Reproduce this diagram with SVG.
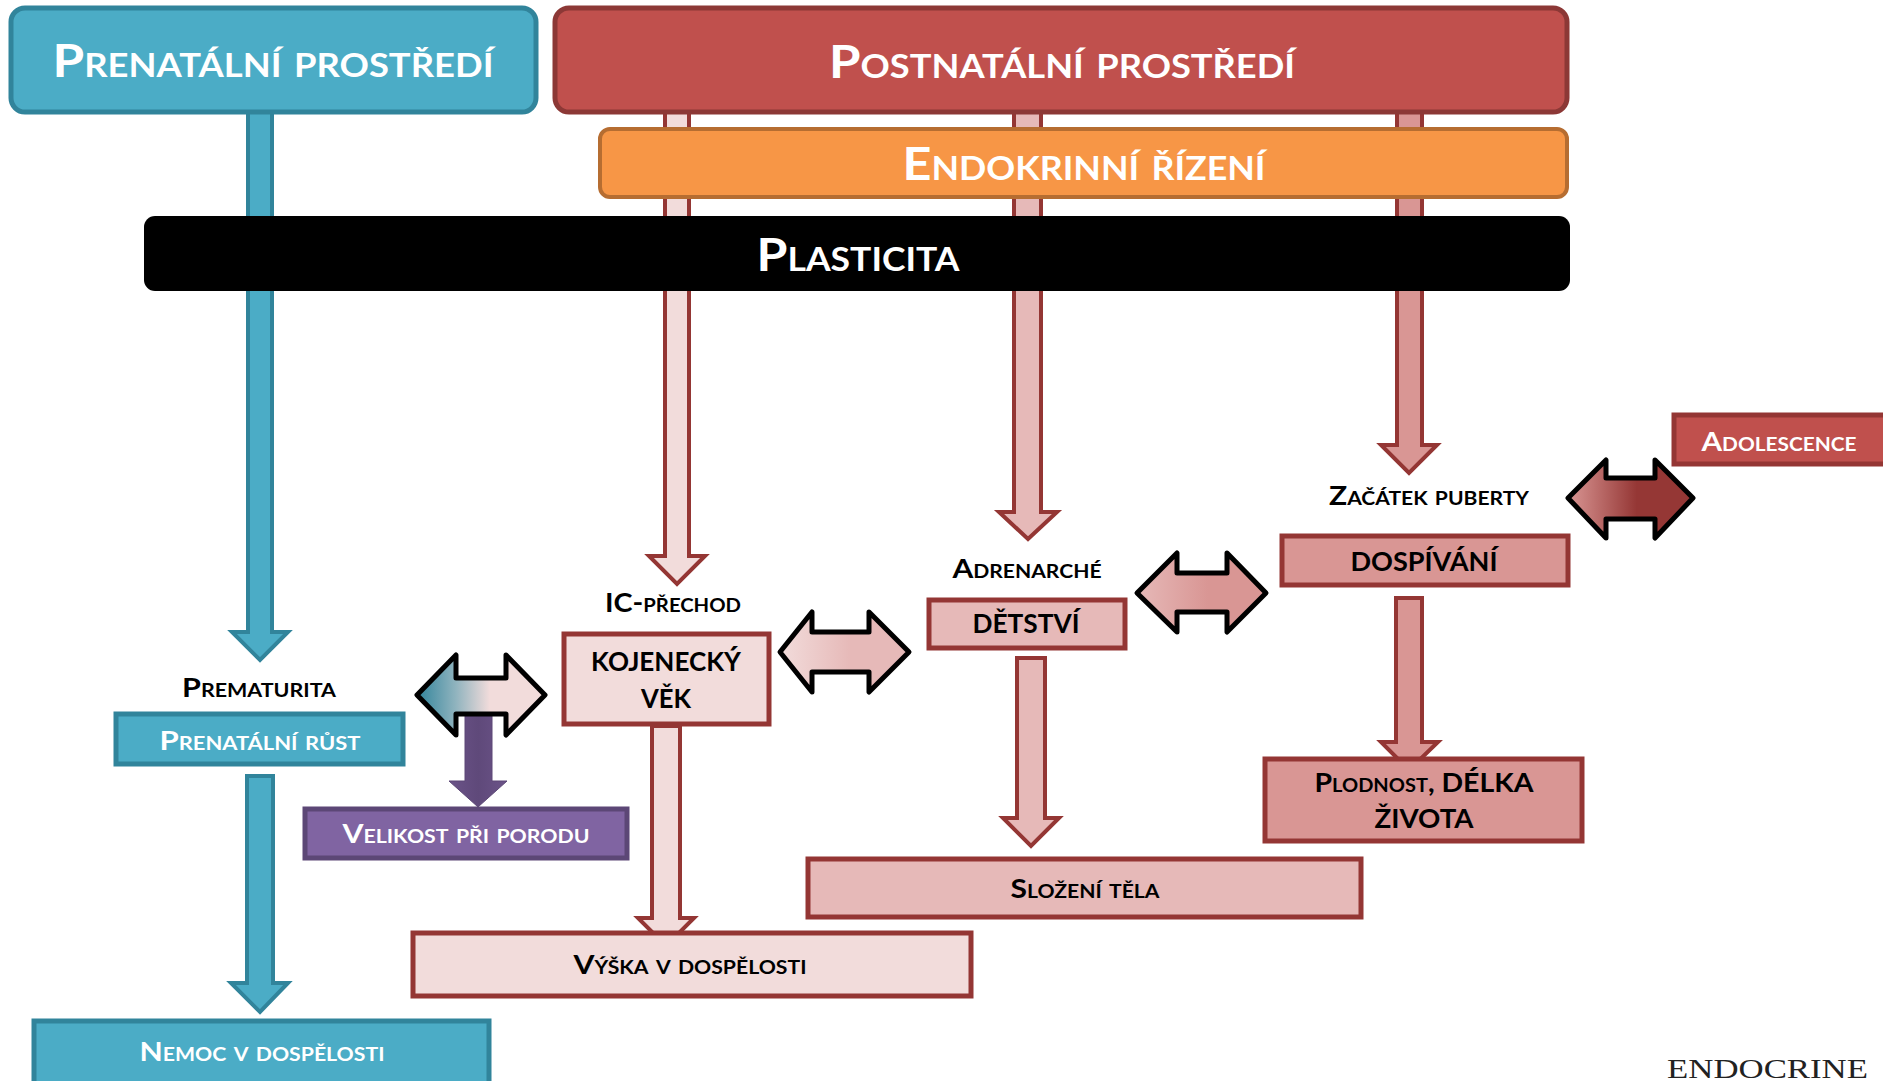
<svg xmlns="http://www.w3.org/2000/svg" width="1883" height="1081" viewBox="0 0 1883 1081">
<style>
text{font-family:Lato,"Open Sans","Liberation Sans",sans-serif;font-weight:bold;text-anchor:middle}
.sc{font-variant:small-caps}
.hd{font-size:45px;fill:#fff}
.lb{font-size:27px;fill:#000}
.wt{font-size:27px;fill:#fff}
.pk1{fill:#F2DCDB;stroke:#943634;stroke-width:5}
.pk2{fill:#E6B9B8;stroke:#943634;stroke-width:5}
.pk3{fill:#D99694;stroke:#943634;stroke-width:5}
.ar1{fill:#F2DCDB;stroke:#943634;stroke-width:4}
.ar2{fill:#E6B9B8;stroke:#943634;stroke-width:4}
.ar3{fill:#D99694;stroke:#943634;stroke-width:4}
.tl{fill:#4BACC6;stroke:#31849B;stroke-width:4}
.dbl{stroke:#000;stroke-width:5;stroke-linejoin:round}
</style>
<defs>
<linearGradient id="g1" x1="0" y1="0" x2="1" y2="0">
<stop offset="0" stop-color="#31849B"/><stop offset="0.3" stop-color="#8FB3BE"/><stop offset="0.57" stop-color="#F2DCDB"/><stop offset="1" stop-color="#F2DCDB"/>
</linearGradient>
<linearGradient id="g2" x1="0" y1="0" x2="1" y2="0">
<stop offset="0" stop-color="#F2DCDB"/><stop offset="0.55" stop-color="#E6B9B8"/><stop offset="1" stop-color="#E6B9B8"/>
</linearGradient>
<linearGradient id="g3" x1="0" y1="0" x2="1" y2="0">
<stop offset="0" stop-color="#E6B9B8"/><stop offset="0.55" stop-color="#D99694"/><stop offset="1" stop-color="#D99694"/>
</linearGradient>
<linearGradient id="g4" x1="0" y1="0" x2="1" y2="0">
<stop offset="0" stop-color="#D99694"/><stop offset="0.55" stop-color="#953735"/><stop offset="1" stop-color="#953735"/>
</linearGradient>
<linearGradient id="gp" x1="0" y1="0" x2="1" y2="0">
<stop offset="0" stop-color="#6B5388"/><stop offset="0.5" stop-color="#5F497A"/><stop offset="1" stop-color="#6B5388"/>
</linearGradient>
</defs>

<g id="connectors">
<path class="tl" d="M248,100 V632 H232 L260,660 L288,632 H272 V100 Z"/>
<path class="tl" d="M247,776 V983 H231 L260,1012 L288,983 H273 V776 Z"/>
<path class="ar1" d="M665,100 V556 H649 L677,584 L705,556 H689 V100 Z"/>
<path class="ar2" d="M1014,100 V512 H999 L1028,539 L1057,512 H1041 V100 Z"/>
<path class="ar3" d="M1397,100 V445 H1381 L1409,473 L1437,445 H1422 V100 Z"/>
<path class="ar1" d="M652,726 V918 H638 L666,946 L694,918 H680 V726 Z"/>
<path class="ar2" d="M1017,658 V818 H1003 L1031,846 L1059,818 H1045 V658 Z"/>
<path class="ar3" d="M1396,598 V742 H1381 L1409,770 L1438,742 H1422 V598 Z"/>
<path fill="url(#gp)" stroke="#5C4776" stroke-width="1" d="M465,700 V781 H449 L478,807 L507,781 H492 V700 Z"/>
<path id="dbl1" class="dbl" fill="url(#g1)" d="M417,695 L456,655 V678 H506 V655 L545,695 L506,735 V714 H456 V735 Z"/>
<path id="dbl2" class="dbl" fill="url(#g2)" d="M780,652 L812,612 V632 H869 V612 L909,652 L869,692 V672 H812 V692 Z"/>
<path id="dbl3" class="dbl" fill="url(#g3)" d="M1137,593 L1177,553 V573 H1227 V553 L1266,593 L1227,632 V612 H1177 V632 Z"/>
<path id="dbl4" class="dbl" fill="url(#g4)" d="M1568,498 L1606,460 V478 H1655 V460 L1693,498 L1655,538 V519 H1606 V538 Z"/>
</g>

<g id="prenatal-env">
<rect x="11" y="8" width="525" height="104" rx="14" fill="#4BACC6" stroke="#31849B" stroke-width="5"/>
<text class="hd sc" x="273" y="77" textLength="441" lengthAdjust="spacingAndGlyphs">Prenatální prostředí</text>
</g>
<g id="postnatal-env">
<rect x="555" y="8" width="1012" height="104" rx="14" fill="#C0504D" stroke="#8C3836" stroke-width="5"/>
<text class="hd sc" x="1062" y="78" textLength="466" lengthAdjust="spacingAndGlyphs">Postnatální prostředí</text>
</g>
<g id="endocrine">
<rect x="600" y="129" width="967" height="68" rx="10" fill="#F79646" stroke="#B66D31" stroke-width="4"/>
<text class="hd sc" x="1084" y="180" textLength="363" lengthAdjust="spacingAndGlyphs">Endokrinní řízení</text>
</g>
<g id="plasticity">
<rect x="144" y="216" width="1426" height="75" rx="11" fill="#000"/>
<text class="hd sc" x="858" y="271" textLength="203" lengthAdjust="spacingAndGlyphs">Plasticita</text>
</g>

<g id="prematurity">
<text class="lb sc" x="259" y="697" textLength="154" lengthAdjust="spacingAndGlyphs">Prematurita</text>
</g>
<g id="prenatal-growth">
<rect x="116" y="714" width="287" height="50" fill="#4BACC6" stroke="#31849B" stroke-width="5"/>
<text class="wt sc" x="260" y="750" textLength="201" lengthAdjust="spacingAndGlyphs">Prenatální růst</text>
</g>
<g id="birth-size">
<rect x="305" y="809" width="322" height="49" fill="#8064A2" stroke="#5C4776" stroke-width="5"/>
<text class="wt sc" x="466" y="843" textLength="247" lengthAdjust="spacingAndGlyphs">Velikost při porodu</text>
</g>
<g id="adult-disease">
<rect x="34" y="1021" width="455" height="80" fill="#4BACC6" stroke="#31849B" stroke-width="5"/>
<text class="wt sc" x="262" y="1061" textLength="245" lengthAdjust="spacingAndGlyphs">Nemoc v dospělosti</text>
</g>

<g id="ic-transition">
<text class="lb sc" x="673" y="612" textLength="136" lengthAdjust="spacingAndGlyphs">IC-přechod</text>
</g>
<g id="infancy">
<rect x="564" y="634" width="205" height="90" class="pk1"/>
<text class="lb" x="666" y="671" textLength="150" lengthAdjust="spacingAndGlyphs">KOJENECKÝ</text>
<text class="lb" x="666" y="708" textLength="50" lengthAdjust="spacingAndGlyphs">VĚK</text>
</g>
<g id="adult-height">
<rect x="413" y="933" width="558" height="63" class="pk1"/>
<text class="lb sc" x="690" y="974" textLength="233" lengthAdjust="spacingAndGlyphs">Výška v dospělosti</text>
</g>

<g id="adrenarche">
<text class="lb sc" x="1027" y="578" textLength="149" lengthAdjust="spacingAndGlyphs">Adrenarché</text>
</g>
<g id="childhood">
<rect x="929" y="600" width="196" height="48" class="pk2"/>
<text class="lb" x="1026" y="633" textLength="107" lengthAdjust="spacingAndGlyphs">DĚTSTVÍ</text>
</g>
<g id="body-composition">
<rect x="808" y="859" width="553" height="58" class="pk2"/>
<text class="lb sc" x="1085" y="898" textLength="149" lengthAdjust="spacingAndGlyphs">Složení těla</text>
</g>

<g id="puberty-onset">
<text class="lb sc" x="1429" y="505" textLength="200" lengthAdjust="spacingAndGlyphs">Začátek puberty</text>
</g>
<g id="puberty">
<rect x="1282" y="536" width="286" height="49" class="pk3"/>
<text class="lb" x="1424" y="571" textLength="147" lengthAdjust="spacingAndGlyphs">DOSPÍVÁNÍ</text>
</g>
<g id="fertility">
<rect x="1265" y="759" width="317" height="82" class="pk3"/>
<text class="lb sc" x="1424" y="792" textLength="219" lengthAdjust="spacingAndGlyphs">Plodnost, DÉLKA</text>
<text class="lb" x="1424" y="828" textLength="99" lengthAdjust="spacingAndGlyphs">ŽIVOTA</text>
</g>
<g id="adolescence">
<rect x="1674" y="415" width="220" height="49" fill="#C0504D" stroke="#943634" stroke-width="5"/>
<text class="wt sc" x="1779" y="451" textLength="155" lengthAdjust="spacingAndGlyphs">Adolescence</text>
</g>

<text x="1667" y="1078" style="font-family:'Liberation Serif',serif;font-weight:normal;text-anchor:start;font-size:28px;fill:#222" textLength="201" lengthAdjust="spacingAndGlyphs">ENDOCRINE</text>
</svg>
